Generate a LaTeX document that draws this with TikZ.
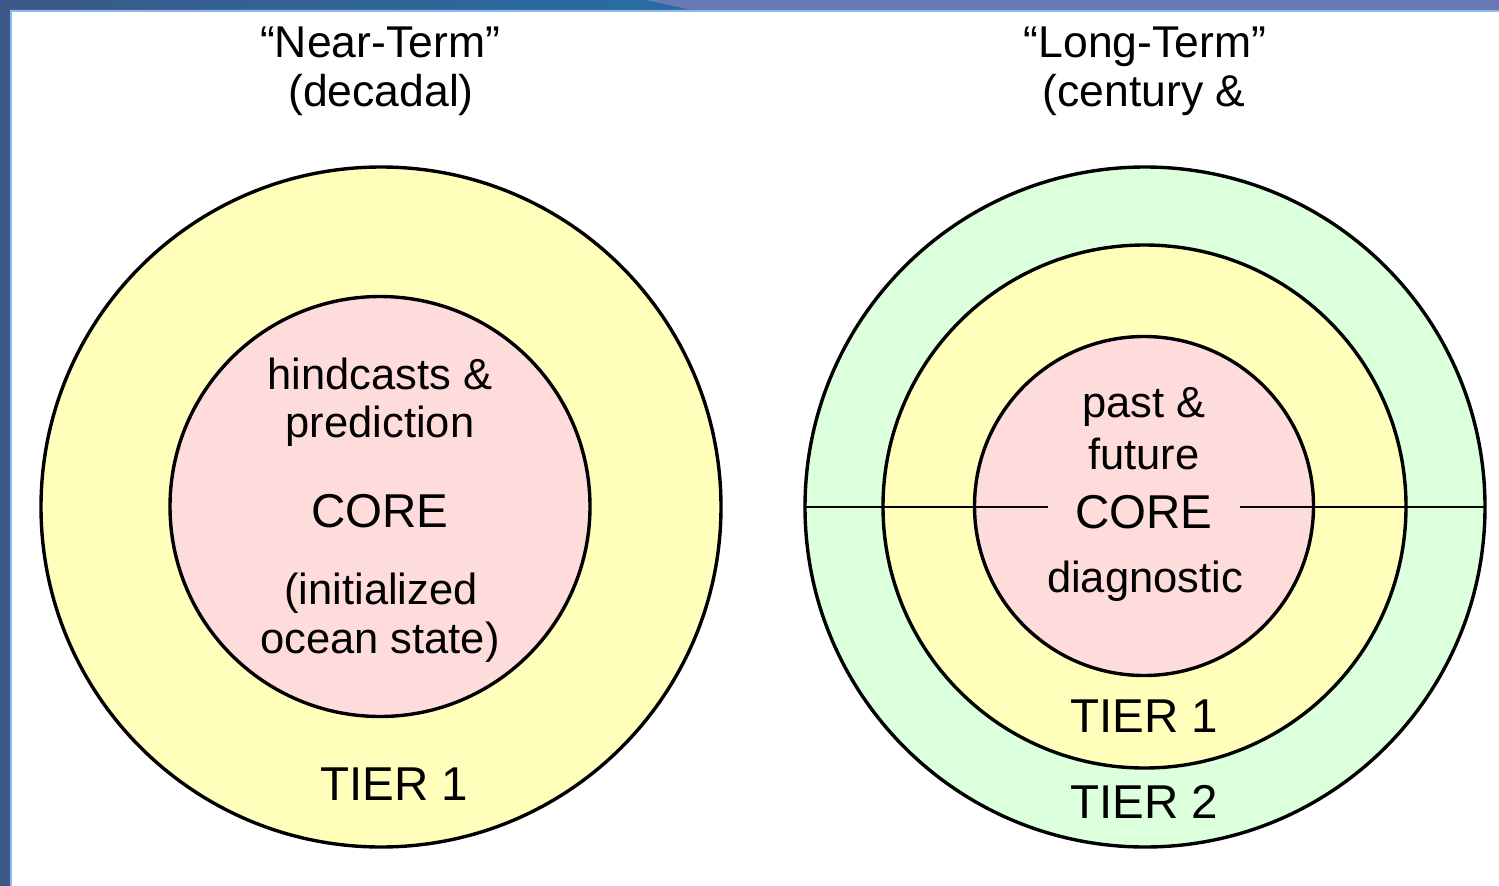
\documentclass[tikz,border=0pt]{standalone}
\usepackage{fontspec}
\setmainfont{Liberation Sans}
\definecolor{yel}{RGB}{255,255,187}
\definecolor{pnk}{RGB}{255,220,220}
\definecolor{grn}{RGB}{220,255,220}
\definecolor{bandA}{RGB}{60,88,135}
\definecolor{bandB}{RGB}{38,110,165}
\definecolor{bandC}{RGB}{104,122,180}
\definecolor{bandL}{RGB}{140,185,240}
\tikzset{
  ring/.style={circle, draw=black, line width=3.4pt, inner sep=0pt, outer sep=0pt},
  ttl/.style={anchor=base, inner sep=0pt, font=\fontsize{44.5}{48}\selectfont},
  lbl/.style={anchor=base, inner sep=0pt, font=\fontsize{43.5}{48}\selectfont},
  big/.style={anchor=base, inner sep=0pt, font=\fontsize{47.5}{52}\selectfont},
  divider/.style={draw=black, line width=2.2pt}
}
\begin{document}
\begin{tikzpicture}[x=1pt,y=-1pt]
\useasboundingbox (0,0) rectangle (1499,886);
\fill[white] (0,0) rectangle (1499,886);
% frame bands
\fill[bandC] (0,0) rectangle (1499,9.5);
\shade[left color=bandA, right color=bandB] (0,0) -- (645,0) -- (690,9.5) -- (0,9.5) -- cycle;
\fill[bandL] (9.5,9.5) rectangle (1499,11.5);
\fill[bandA] (0,0) rectangle (9.5,886);
\fill[bandL] (9.5,9.5) rectangle (11.5,886);
% left diagram
\node[ring, fill=yel, minimum size=680pt] (outerL) at (381,507) {};
\node[ring, fill=pnk, minimum size=420pt] (innerL) at (380,506.5) {};
\node[ttl] (titleL1) at (380,57) {“Near-Term”};
\node[ttl] (titleL2) at (381,106) {(decadal)};
\node[lbl] (hind) at (380,389) {hindcasts \&};
\node[lbl] (pred) at (380,437) {prediction};
\node[big] (coreL) at (380,527) {CORE};
\node[lbl] (init) at (381,604) {(initialized};
\node[lbl] (ocean) at (380,653) {ocean state)};
\node[big] (tierL) at (394,800) {TIER 1};
% right diagram
\node[ring, fill=grn, minimum size=680pt] (outerR) at (1145,507) {};
\node[ring, fill=yel, minimum size=523pt] (midR) at (1144.5,506.5) {};
\node[ring, fill=pnk, minimum size=339pt] (innerR) at (1144,506) {};
\coordinate (gapA) at (1048,507);
\coordinate (gapB) at (1240,507);
\draw[divider] (outerR.west) -- (gapA);
\draw[divider] (gapB) -- (outerR.east);
\node[ttl] (titleR1) at (1145,57) {“Long-Term”};
\node[ttl] (titleR2) at (1144,106) {(century \&};
\node[lbl] (past) at (1144,417) {past \&};
\node[lbl] (fut) at (1144,469) {future};
\node[big] (coreR) at (1144,528) {CORE};
\node[lbl] (diag) at (1145,592) {diagnostic};
\node[big] (tierR1) at (1144,732) {TIER 1};
\node[big] (tierR2) at (1144,818) {TIER 2};
\end{tikzpicture}
\end{document}
